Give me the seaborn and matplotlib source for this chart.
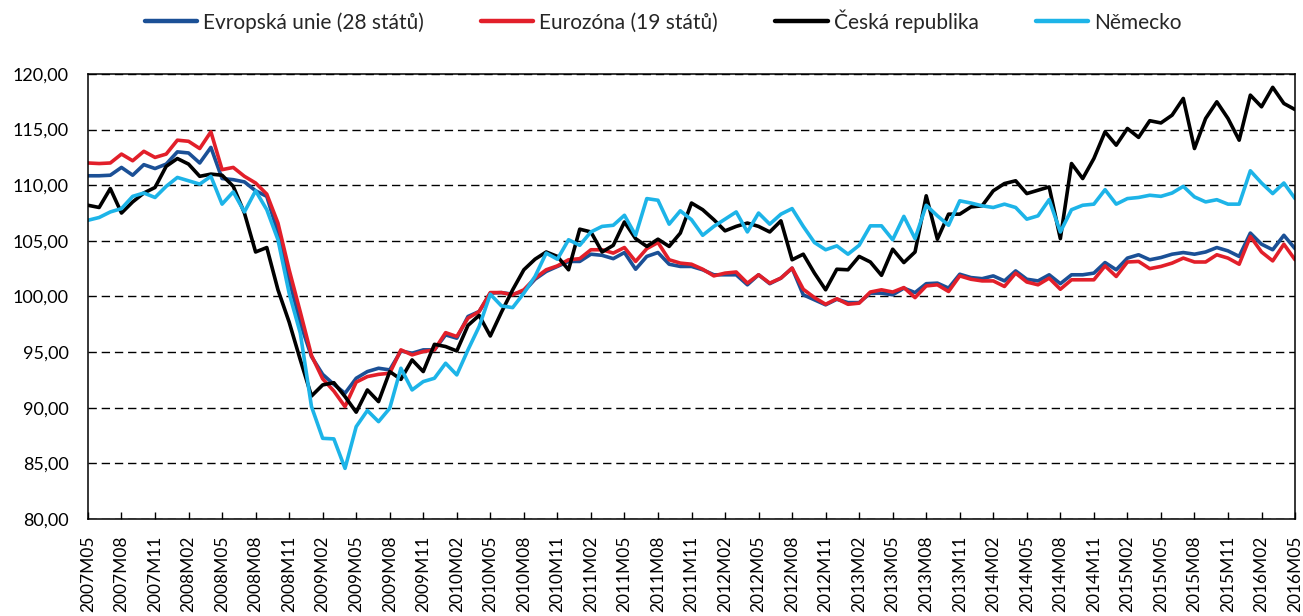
import pandas as pd
import seaborn as sns
import matplotlib.pyplot as plt
from matplotlib.ticker import FuncFormatter

# === DATA (index, 2007M05 - 2016M05) ===
months = [f"{p.year}M{p.month:02d}" for p in pd.period_range('2007-05', '2016-05', freq='M')]

eu28 = [110.85, 110.85, 110.9, 111.6, 110.9, 111.85, 111.5, 111.9, 113.0, 112.9, 112.0, 113.4, 110.6, 110.5, 110.3,
        109.5, 109.0, 105.7, 101.5, 97.6, 94.6, 93.0, 92.1,
        91.3, 92.65, 93.25, 93.55, 93.4, 95.1, 94.9, 95.2, 95.2, 96.55, 96.25, 98.2, 98.65, 100.3, 100.35, 100.2,
        100.45, 101.55, 102.25, 102.7, 103.15, 103.15, 103.8, 103.7, 103.4, 103.95, 102.45, 103.6, 103.95,
        102.9, 102.7, 102.7, 102.4, 101.95, 101.95, 101.95, 101.05, 101.95, 101.15, 101.65, 102.55, 100.15, 99.7,
        99.25, 99.75, 99.45, 99.45, 100.3, 100.3, 100.15, 100.75, 100.35, 101.15, 101.2, 100.75, 102.0, 101.7,
        101.6, 101.85, 101.4, 102.3, 101.55, 101.4, 101.95, 101.15, 101.95, 101.95, 102.1, 103.05, 102.4, 103.45,
        103.75, 103.3, 103.5, 103.8, 103.95, 103.8, 104.0, 104.4, 104.1, 103.6, 105.7, 104.7, 104.2, 105.5, 104.3]

ez19 = [112.0, 111.95, 112.0, 112.8, 112.2, 113.05, 112.5, 112.8, 114.05, 113.95, 113.3, 114.8, 111.4, 111.6, 110.8,
        110.2, 109.2, 106.6, 102.4, 98.6, 94.7, 92.6, 91.5,
        90.1, 92.3, 92.8, 93.0, 93.1, 95.2, 94.75, 95.05, 95.2, 96.75, 96.4, 98.05, 98.65, 100.35, 100.35, 100.15,
        100.6, 101.65, 102.4, 102.75, 103.3, 103.4, 104.2, 104.2, 103.9, 104.4, 103.15, 104.3, 104.85,
        103.3, 103.0, 102.9, 102.45, 101.85, 102.1, 102.2, 101.2, 101.95, 101.2, 101.65, 102.55, 100.65, 99.9,
        99.3, 99.8, 99.3, 99.4, 100.4, 100.6, 100.4, 100.8, 99.9, 100.95, 101.05, 100.45, 101.85, 101.55,
        101.4, 101.4, 100.9, 102.1, 101.3, 101.05, 101.65, 100.65, 101.5, 101.5, 101.5, 102.75, 101.8, 103.1,
        103.15, 102.5, 102.7, 103.0, 103.45, 103.1, 103.1, 103.75, 103.45, 102.9, 105.4, 104.0, 103.2, 104.7, 103.3]

cz = [108.2, 108.0, 109.7, 107.5, 108.5, 109.3, 109.8, 111.7, 112.4, 111.9, 110.8, 111.0, 110.9, 109.9, 107.5,
      104.0, 104.4, 100.6, 97.7, 94.3, 91.05, 92.05, 92.25,
      91.0, 89.6, 91.6, 90.55, 93.25, 92.55, 94.3, 93.25, 95.7, 95.5, 95.1, 97.4, 98.3, 96.45, 98.6, 100.6,
      102.4, 103.35, 104.0, 103.6, 102.4, 106.05, 105.8, 104.0, 104.6, 106.7, 105.2, 104.5, 105.15,
      104.5, 105.7, 108.4, 107.8, 106.9, 105.9, 106.3, 106.6, 106.3, 105.8, 106.8, 103.3, 103.8, 102.1,
      100.6, 102.45, 102.4, 103.6, 103.1, 101.9, 104.25, 103.05, 104.0, 109.05, 105.15, 107.4, 107.4, 108.05,
      108.15, 109.5, 110.15, 110.4, 109.25, 109.55, 109.85, 105.2, 111.95, 110.6, 112.4, 114.8, 113.6, 115.1,
      114.3, 115.8, 115.6, 116.3, 117.8, 113.3, 116.0, 117.5, 116.0, 114.05, 118.1, 117.05, 118.8, 117.35, 116.8]

de = [106.85, 107.1, 107.6, 107.9, 109.0, 109.3, 108.9, 109.9, 110.7, 110.4, 110.1, 110.8, 108.3, 109.4, 107.6,
      109.5, 107.8, 105.1, 100.3, 96.7, 90.1, 87.25, 87.2,
      84.55, 88.3, 89.75, 88.75, 89.95, 93.55, 91.6, 92.35, 92.65, 94.0, 92.95, 95.2, 97.3, 100.2, 99.15, 99.0,
      100.3, 101.8, 103.9, 103.35, 105.1, 104.6, 105.8, 106.3, 106.4, 107.3, 105.5, 108.8, 108.65,
      106.5, 107.7, 106.9, 105.5, 106.3, 106.95, 107.6, 105.8, 107.5, 106.5, 107.4, 107.9, 106.3, 104.85,
      104.2, 104.55, 103.8, 104.6, 106.35, 106.35, 105.1, 107.2, 105.2, 108.2, 107.25, 106.4, 108.6, 108.4,
      108.15, 108.0, 108.3, 108.0, 106.95, 107.25, 108.7, 105.8, 107.8, 108.2, 108.3, 109.6, 108.3, 108.8,
      108.9, 109.1, 109.0, 109.3, 109.9, 108.95, 108.5, 108.7, 108.3, 108.3, 111.3, 110.2, 109.25, 110.2, 108.8]

series_names = ['Evropská unie (28 států)', 'Eurozóna (19 států)', 'Česká republika', 'Německo']
colors = ['#1B5096', '#E21F2A', '#000000', '#1DB4E8']

df = pd.DataFrame({'idx': range(len(months)), 'month': months,
                   series_names[0]: eu28, series_names[1]: ez19,
                   series_names[2]: cz, series_names[3]: de})
long = df.melt(id_vars=['idx', 'month'], var_name='rada', value_name='hodnota')

# === GRAFICO ===
sns.set_theme(style='white')
plt.rcParams['font.family'] = ['Lato', 'DejaVu Sans']

fig = plt.figure(figsize=(13.03, 6.16), dpi=100)
ax = fig.add_axes([0.0675, 0.1575, 0.9264, 0.7224])

sns.lineplot(data=long, x='idx', y='hodnota', hue='rada', hue_order=series_names,
             palette=colors, linewidth=2.6, ax=ax, legend=True)

ax.set_xlim(0, len(months) - 1)
ax.set_ylim(80, 120)
ax.set_yticks(range(80, 121, 5))
ax.yaxis.set_major_formatter(FuncFormatter(lambda v, p: f"{v:.2f}".replace('.', ',')))
ax.set_xticks(range(0, len(months), 3))
ax.set_xticklabels(months[::3], rotation=90)
ax.set_xlabel('')
ax.set_ylabel('')

ax.yaxis.grid(True, color='black', linestyle=(0, (6, 3.5)), linewidth=1.0)
ax.xaxis.grid(False)
ax.set_axisbelow(True)
for s in ax.spines.values():
    s.set_visible(True)
    s.set_color('black')
    s.set_linewidth(1.1)

ax.tick_params(axis='x', direction='in', length=5, width=1.0, color='black', bottom=True,
               labelsize=12.5, pad=12, labelcolor='black')
ax.tick_params(axis='y', length=0, labelsize=13, pad=14, labelcolor='black')

handles, labels = ax.get_legend_handles_labels()
ax.legend_.remove()
leg = fig.legend(handles, labels, loc='center', bbox_to_anchor=(0.509, 0.966), ncol=4, frameon=False,
                 fontsize=15, handlelength=2.5, handletextpad=0.3, columnspacing=2.75)
for h in leg.get_lines():
    h.set_linewidth(3.2)

fig.savefig('out.png', dpi=100)
